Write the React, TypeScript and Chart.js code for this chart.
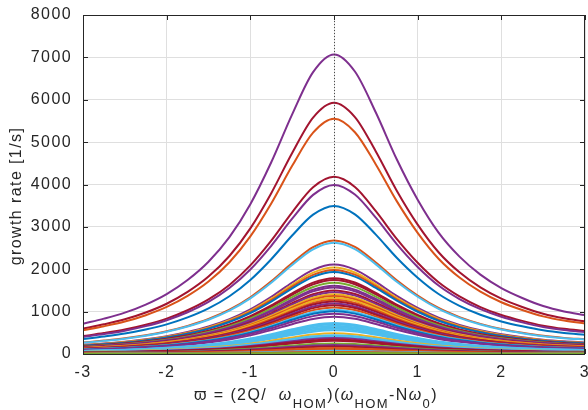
import { useEffect, useRef } from "react";
import { Chart, registerables } from "chart.js";

Chart.register(...registerables);

// x positions (normalised detuning) where each curve is sampled
const xValues = [
  -3, -2.75, -2.5, -2.25, -2, -1.75, -1.5, -1.25, -1, -0.75, -0.5, -0.25, 0,
  0.25, 0.5, 0.75, 1, 1.25, 1.5, 1.75, 2, 2.25, 2.5, 2.75, 3,
];
// resonance shape (relative to its peak)
const profile = [
  0.101, 0.118, 0.138, 0.165, 0.2, 0.247, 0.308, 0.39, 0.5, 0.64, 0.8, 0.941, 1,
  0.943, 0.806, 0.65, 0.515, 0.405, 0.325, 0.265, 0.22, 0.187, 0.16, 0.142, 0.13,
];
// peak growth rates [1/s] at zero detuning, one per mode
const peakRates = [
  7070, 5930, 5550, 4180, 3990, 3495, 2680, 2625, 2110, 2040, 1985, 1935, 1790,
  1745, 1680, 1610, 1570, 1500, 1460, 1410, 1370, 1330, 1280, 1240, 1190, 1150,
  1100, 1045, 1010, 950, 880, 730, 700, 665, 630, 595, 560, 490, 445, 410,
  375, 340, 310, 250, 215, 175, 140, 105, 75, 50, 28, 12,
];
const P = "#7E2F8E", R = "#A2142F", O = "#D95319", B = "#0072BD", Y = "#EDB120", G = "#77AC30", L = "#4DBEEE";
const seriesColors = [
  P, R, O, R, P, B, O, L, P, Y, O, B, R,
  R, G, P, P, R, P, Y, O, Y, O, R, P, R,
  O, L, B, P, P, L, L, L, L, L, L, Y, L, L,
  P, R, R, G, P, R, O, O, L, O, G, G,
];
const xTicks = [-3, -2, -1, 0, 1, 2, 3];
const yTicks = [0, 1000, 2000, 3000, 4000, 5000, 6000, 7000, 8000];

const FONT = "'Liberation Sans', Arial, Helvetica, sans-serif";
const AXIS = "#262626";

const decorPlugin = {
  id: "decor",
  beforeDraw(chart: any) {
    (chart.ctx as any).letterSpacing = "1.4px";
  },
  afterDatasetsDraw(chart: any) {
    const { ctx, chartArea: a, scales } = chart;
    ctx.save();
    // dotted line at zero detuning
    const x0 = Math.round(scales.x.getPixelForValue(0)) + 0.5;
    ctx.strokeStyle = "#4a4a4a";
    ctx.lineWidth = 1;
    ctx.setLineDash([1, 2]);
    ctx.beginPath();
    ctx.moveTo(x0, a.top);
    ctx.lineTo(x0, a.bottom);
    ctx.stroke();
    ctx.setLineDash([]);
    // box
    ctx.strokeStyle = AXIS;
    ctx.strokeRect(Math.round(a.left) + 0.5, Math.round(a.top) + 0.5, Math.round(a.right - a.left) - 1, Math.round(a.bottom - a.top));
    // inner ticks
    const tl = 5;
    ctx.beginPath();
    for (const v of xTicks) {
      const px = Math.round(scales.x.getPixelForValue(v)) + 0.5;
      ctx.moveTo(px, a.bottom);
      ctx.lineTo(px, a.bottom - tl);
      ctx.moveTo(px, a.top);
      ctx.lineTo(px, a.top + tl);
    }
    for (const v of yTicks) {
      const py = Math.round(scales.y.getPixelForValue(v)) + 0.5;
      ctx.moveTo(a.left, py);
      ctx.lineTo(a.left + tl, py);
      ctx.moveTo(a.right, py);
      ctx.lineTo(a.right - tl, py);
    }
    ctx.stroke();
    ctx.restore();
  },
  afterDraw(chart: any) {
    const ctx = chart.ctx;
    ctx.save();
    (ctx as any).letterSpacing = "1.4px";
    ctx.fillStyle = AXIS;
    // y title
    ctx.save();
    ctx.translate(17, 196);
    ctx.rotate(-Math.PI / 2);
    ctx.font = `16px ${FONT}`;
    ctx.textAlign = "center";
    ctx.textBaseline = "middle";
    ctx.fillText("growth rate [1/s]", 0, 0);
    ctx.restore();
    // x title with subscripts
    const parts = [
      { t: "ϖ", f: `16px ${FONT}`, dy: 0 },
      { t: " = (2Q/  ", f: `16px ${FONT}`, dy: 0 },
      { t: "ω", f: `italic 16px ${FONT}`, dy: 0 },
      { t: "HOM", f: `13px ${FONT}`, dy: 8 },
      { t: ")(", f: `16px ${FONT}`, dy: 0 },
      { t: "ω", f: `italic 16px ${FONT}`, dy: 0 },
      { t: "HOM", f: `13px ${FONT}`, dy: 8 },
      { t: "-N", f: `16px ${FONT}`, dy: 0 },
      { t: "ω", f: `italic 16px ${FONT}`, dy: 0 },
      { t: "0", f: `13px ${FONT}`, dy: 8 },
      { t: ")", f: `16px ${FONT}`, dy: 0 },
    ];
    let total = 0;
    const widths = parts.map((p) => {
      ctx.font = p.f;
      const w = ctx.measureText(p.t).width;
      total += w;
      return w;
    });
    let x = 316 - total / 2;
    ctx.textAlign = "left";
    ctx.textBaseline = "alphabetic";
    parts.forEach((p, i) => {
      ctx.font = p.f;
      ctx.fillText(p.t, x, 400 + p.dy);
      x += widths[i];
    });
    ctx.restore();
  },
};

export default function App() {
  const ref = useRef<HTMLCanvasElement | null>(null);
  useEffect(() => {
    document.body.style.margin = "0";
    if (!ref.current) return;
    const n = peakRates.length;
    const datasets = peakRates.map((peak, i) => ({
      data: xValues.map((x, j) => ({ x, y: peak * profile[j] })),
      borderColor: seriesColors[i],
      borderWidth: 2,
      pointRadius: 0,
      fill: false,
      order: n - i,
      cubicInterpolationMode: "monotone" as const,
    }));
    const tickFont = { family: FONT, size: 16 };
    const chart = new Chart(ref.current, {
      type: "line",
      data: { datasets },
      options: {
        animation: false,
        responsive: false,
        events: [],
        layout: { padding: { top: 15, right: 3, left: 0, bottom: 0 } },
        plugins: { legend: { display: false }, tooltip: { enabled: false } },
        scales: {
          x: {
            type: "linear",
            min: -3,
            max: 3,
            afterBuildTicks: (s: any) => {
              s.ticks = xTicks.map((v) => ({ value: v }));
            },
            afterFit: (s: any) => {
              s.height = 56;
              s.paddingLeft = 0;
              s.paddingRight = 0;
            },
            grid: { color: "#dfdfdf", drawTicks: false },
            border: { display: false },
            ticks: { font: tickFont, color: AXIS, padding: 9, maxRotation: 0, callback: (v: any) => String(v) },
          },
          y: {
            type: "linear",
            min: 0,
            max: 8000,
            afterBuildTicks: (s: any) => {
              s.ticks = yTicks.map((v) => ({ value: v }));
            },
            afterFit: (s: any) => {
              s.width = 83;
              s.paddingTop = 0;
              s.paddingBottom = 0;
            },
            grid: { color: "#dfdfdf", drawTicks: false },
            border: { display: false },
            ticks: { font: tickFont, color: AXIS, padding: 11, callback: (v: any) => String(v) },
          },
        },
      },
      plugins: [decorPlugin],
    });
    return () => chart.destroy();
  }, []);
  return (
    <div style={{ width: 588, height: 410 }}>
      <canvas ref={ref} width={588} height={410} />
    </div>
  );
}
